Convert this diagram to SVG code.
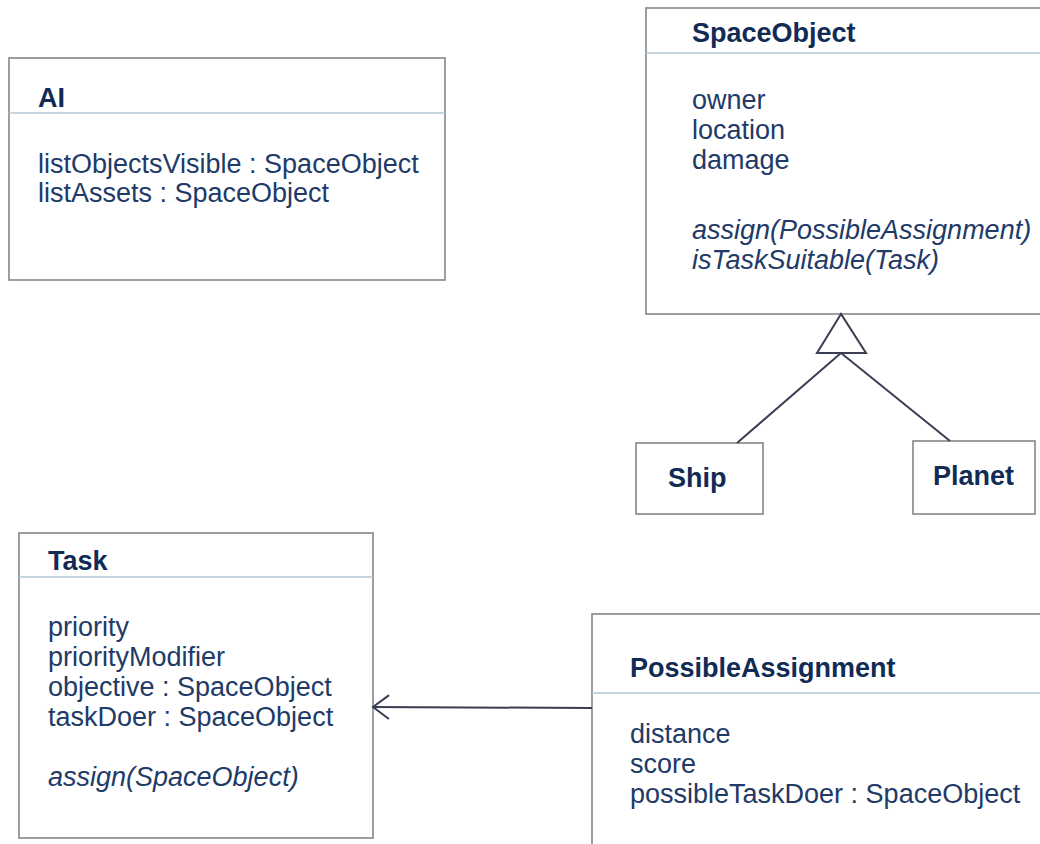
<svg xmlns="http://www.w3.org/2000/svg" width="1040" height="844" viewBox="0 0 1040 844">
  <defs>
    <style>
      .box { fill: #ffffff; stroke: #868686; stroke-width: 1.6; }
      .div { stroke: #b3c9d3; stroke-width: 1.5; fill: none; }
      .title { font-family: "Liberation Sans", Arial, sans-serif; font-size: 27px; font-weight: bold; fill: #112b55; }
      .attr { font-family: "Liberation Sans", Arial, sans-serif; font-size: 27px; fill: #213a67; }
      .op { font-family: "Liberation Sans", Arial, sans-serif; font-size: 27px; font-style: italic; fill: #213a67; }
      .conn { stroke: #3a3e52; stroke-width: 2; fill: none; }
    </style>
    <marker id="open" markerWidth="20" markerHeight="30" refX="18" refY="13" orient="auto" markerUnits="userSpaceOnUse" viewBox="0 0 20 30">
      <path d="M2,1 L18,13 L2,25" fill="none" stroke="#3a3e52" stroke-width="2"/>
    </marker>
  </defs>
  <rect width="1040" height="844" fill="#ffffff"/>

  <g id="AI">
    <rect class="box" x="9" y="58" width="436" height="222"/>
    <line class="div" x1="9" y1="113" x2="445" y2="113"/>
    <text class="title" x="38" y="107">AI</text>
    <text class="attr" x="38" y="173">listObjectsVisible : SpaceObject</text>
    <text class="attr" x="38" y="202">listAssets : SpaceObject</text>
  </g>

  <g id="SpaceObject">
    <rect class="box" x="646" y="8" width="410" height="306"/>
    <line class="div" x1="646" y1="53" x2="1040" y2="53"/>
    <text class="title" x="692" y="42">SpaceObject</text>
    <text class="attr" x="692" y="109">owner</text>
    <text class="attr" x="692" y="139">location</text>
    <text class="attr" x="692" y="169">damage</text>
    <text class="op" x="692" y="239">assign(PossibleAssignment)</text>
    <text class="op" x="692" y="269">isTaskSuitable(Task)</text>
  </g>

  <g id="Ship">
    <rect class="box" x="636" y="443" width="127" height="71"/>
    <text class="title" x="668" y="487">Ship</text>
  </g>

  <g id="Planet">
    <rect class="box" x="913" y="441" width="122" height="73"/>
    <text class="title" x="933" y="485">Planet</text>
  </g>

  <g id="Task">
    <rect class="box" x="19" y="533" width="354" height="305"/>
    <line class="div" x1="19" y1="577" x2="373" y2="577"/>
    <text class="title" x="48" y="570">Task</text>
    <text class="attr" x="48" y="636">priority</text>
    <text class="attr" x="48" y="666">priorityModifier</text>
    <text class="attr" x="48" y="696">objective : SpaceObject</text>
    <text class="attr" x="48" y="726">taskDoer : SpaceObject</text>
    <text class="op" x="48" y="786">assign(SpaceObject)</text>
  </g>

  <g id="PossibleAssignment">
    <rect class="box" x="592" y="614" width="460" height="240"/>
    <line class="div" x1="592" y1="693" x2="1040" y2="693"/>
    <text class="title" x="630" y="677">PossibleAssignment</text>
    <text class="attr" x="630" y="743">distance</text>
    <text class="attr" x="630" y="773">score</text>
    <text class="attr" x="630" y="803">possibleTaskDoer : SpaceObject</text>
  </g>

  <g id="connectors">
    <polygon points="841,314 817,353 866,353" fill="#ffffff" stroke="#3a3e52" stroke-width="2" stroke-linejoin="miter"/>
    <line class="conn" x1="841" y1="353" x2="737" y2="443"/>
    <line class="conn" x1="841" y1="353" x2="950" y2="441"/>
    <line class="conn" x1="592" y1="708" x2="373" y2="707" marker-end="url(#open)"/>
  </g>
</svg>
